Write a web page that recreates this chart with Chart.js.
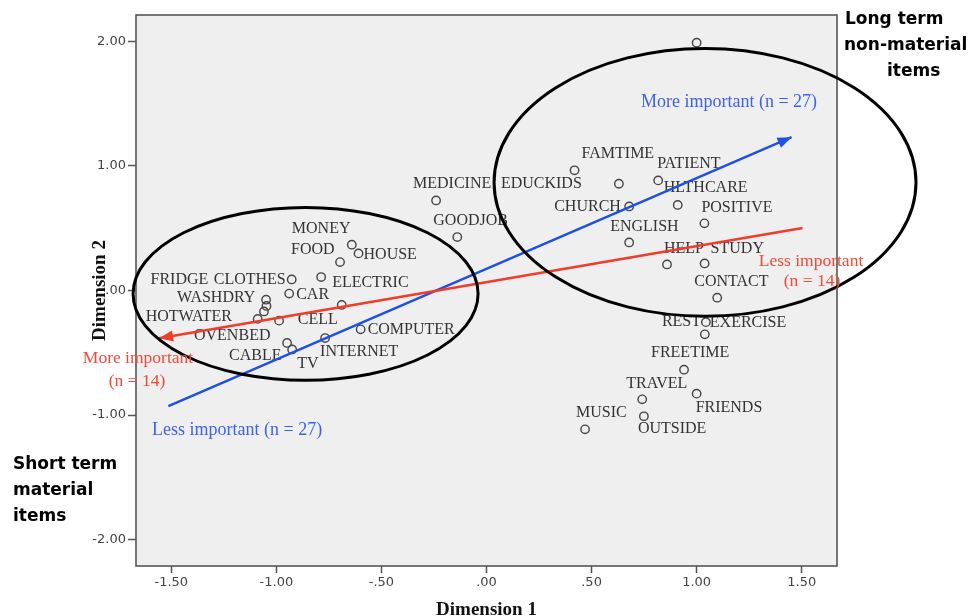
<!DOCTYPE html>
<html><head><meta charset="utf-8">
<script src="https://cdn.jsdelivr.net/npm/chart.js@4/dist/chart.umd.min.js"></script>
<style>html,body{margin:0;padding:0;background:#fff;}canvas{display:block;}</style>
</head><body>
<canvas id="c" width="973" height="616"></canvas>
<script>
// ---- data ----
const itemNames = ['MONEY','HOUSE','FOOD','CLOTHES','ELECTRIC','CAR','WASHDRY','FRIDGE','OVEN','HOTWATER','BED','CELL','COMPUTER','INTERNET','CABLE','TV',
  'MEDICINE','GOODJOB',
  'FAMTIME','EDUCKIDS','PATIENT','CHURCH','HLTHCARE','POSITIVE','ENGLISH','HELP','STUDY','CONTACT','REST','EXERCISE','FREETIME','FRIENDS','TRAVEL','OUTSIDE','MUSIC',''];
const dimension1 = [-0.641,-0.609,-0.697,-0.927,-0.787,-0.939,-1.049,-1.047,-1.059,-1.089,-0.987,-0.689,-0.599,-0.768,-0.949,-0.925,
  -0.240,-0.139,
  0.419,0.630,0.817,0.679,0.910,1.037,0.679,0.859,1.038,1.098,1.044,1.039,0.940,1.000,0.741,0.749,0.469,1.000];
const dimension2 = [0.368,0.298,0.228,0.089,0.108,-0.025,-0.074,-0.124,-0.168,-0.228,-0.242,-0.116,-0.312,-0.382,-0.421,-0.473,
  0.723,0.429,
  0.965,0.857,0.884,0.675,0.687,0.539,0.386,0.209,0.217,-0.058,-0.254,-0.352,-0.636,-0.828,-0.874,-1.010,-1.115,1.989];
const xTickValues = [-1.5,-1,-0.5,0,0.5,1,1.5];
const xTickLabels = ['-1.50','-1.00','-.50','.00','.50','1.00','1.50'];
const yTickValues = [-2,-1,0,1,2];
const yTickLabels = ['-2.00','-1.00','.00','1.00','2.00'];
// preference vectors (tail -> head), in dimension units
const blueArrowDim1 = [-1.514, 1.452];
const blueArrowDim2 = [-0.928, 1.231];
const redArrowDim1 = [1.504, -1.558];
const redArrowDim2 = [0.501, -0.384];

// ---- layout / style (label offsets in px from point: left edge, middle) ----
const labelDx = [-60,5,-49,-78,11,7,-89,-116,-70,-112,-40.5,-44,7,-5,-58,5,
  -23,-24,
  7,-118,-1,-75,-14,-3,-19,-3,6,-23,-44,5,-33,-1,-16,-6,-9,0];
const labelDy = [-16,1,-12,0,6,1,-2,-26,24,-2,15,15,0,14,12.5,14,
  -17,-16,
  -17,0,-17,0,-17,-16,-16,-16,-15,-16,0,-12,-17,14,-16,13,-17,0];
const ellipses = [
  {cx:-0.861, cy:-0.027, rx:0.821, ry:0.694},
  {cx:1.040, cy:0.868, rx:1.004, ry:1.075}
];

const SERIF = '"Liberation Serif", "Times New Roman", serif';

const framePlugin = {
  id:'frame',
  beforeDraw(chart){
    const {ctx, chartArea:a} = chart;
    ctx.save();
    ctx.fillStyle = '#efefef';
    ctx.fillRect(a.left, a.top, a.right-a.left, a.bottom-a.top);
    ctx.restore();
  },
  beforeDatasetsDraw(chart){
    const {ctx, chartArea:a} = chart;
    ctx.save();
    ctx.strokeStyle = '#555';
    ctx.lineWidth = 1.6;
    ctx.strokeRect(a.left, a.top, a.right-a.left, a.bottom-a.top);
    ctx.restore();
  },
  afterDatasetDraw(chart, args){
    const ctx = chart.ctx;
    if (args.index === 0) {
      const meta = chart.getDatasetMeta(0);
      ctx.save();
      ctx.font = '16px ' + SERIF;
      ctx.fillStyle = '#333';
      ctx.textAlign = 'left';
      ctx.textBaseline = 'middle';
      meta.data.forEach((pt, i) => {
        if (itemNames[i]) ctx.fillText(itemNames[i], pt.x + labelDx[i], pt.y + labelDy[i]);
      });
      ctx.restore();
    } else {
      const meta = chart.getDatasetMeta(args.index);
      const p0 = meta.data[0], p1 = meta.data[1];
      const ang = Math.atan2(p1.y - p0.y, p1.x - p0.x);
      const L = 14, W = 5.5;
      ctx.save();
      ctx.fillStyle = chart.data.datasets[args.index].borderColor;
      ctx.beginPath();
      ctx.moveTo(p1.x, p1.y);
      ctx.lineTo(p1.x - L*Math.cos(ang) + W*Math.sin(ang), p1.y - L*Math.sin(ang) - W*Math.cos(ang));
      ctx.lineTo(p1.x - L*Math.cos(ang) - W*Math.sin(ang), p1.y - L*Math.sin(ang) + W*Math.cos(ang));
      ctx.closePath();
      ctx.fill();
      ctx.restore();
    }
  },
  afterDatasetsDraw(chart){
    const {ctx, scales:{x, y}} = chart;
    ctx.save();
    ctx.strokeStyle = '#000';
    ctx.lineWidth = 3;
    ellipses.forEach(e => {
      const cx = x.getPixelForValue(e.cx), cy = y.getPixelForValue(e.cy);
      const rx = Math.abs(x.getPixelForValue(e.cx + e.rx) - cx);
      const ry = Math.abs(y.getPixelForValue(e.cy + e.ry) - cy);
      ctx.beginPath();
      ctx.ellipse(cx, cy, rx, ry, 0, 0, Math.PI*2);
      ctx.stroke();
    });
    ctx.restore();
  },
  afterDraw(chart){
    const ctx = chart.ctx;
    ctx.save();
    ctx.textBaseline = 'middle';
    // blue annotations
    ctx.font = '18px ' + SERIF;
    ctx.fillStyle = '#3d62ee';
    ctx.textAlign = 'left';
    ctx.fillText('More important (n = 27)', 641, 102);
    ctx.fillText('Less important (n = 27)', 152, 430);
    // red annotations
    ctx.font = '17.5px ' + SERIF;
    ctx.fillStyle = '#f24a36';
    ctx.textAlign = 'center';
    ctx.fillText('More important', 138, 358);
    ctx.fillText('(n = 14)', 137, 381);
    ctx.fillText('Less important', 811, 261);
    ctx.fillText('(n = 14)', 812, 281);
    // group labels
    ctx.font = 'bold 17px "DejaVu Sans", sans-serif';
    ctx.fillStyle = '#000';
    ctx.textAlign = 'left';
    ctx.fillText('Long term', 845, 20);
    ctx.fillText('non-material', 844, 46);
    ctx.fillText('items', 887, 72);
    ctx.fillText('Short term', 13, 465);
    ctx.fillText('material', 13, 491);
    ctx.fillText('items', 13, 517);
    ctx.restore();
  }
};

const tickFont = {family:'"DejaVu Sans", sans-serif', size:13};
const titleFont = {family: SERIF, size:19, weight:'bold'};

new Chart(document.getElementById('c'), {
  type:'scatter',
  data:{
    datasets:[
      {
        data: dimension1.map((v,i)=>({x:v, y:dimension2[i]})),
        pointRadius:4.2, pointBorderWidth:1.4, pointBorderColor:'#444',
        pointBackgroundColor:'rgba(0,0,0,0)', showLine:false, order:3, clip:false
      },
      {
        type:'line',
        data: blueArrowDim1.map((v,i)=>({x:v, y:blueArrowDim2[i]})),
        borderColor:'#1f50e4', borderWidth:2.5, pointRadius:0, fill:false, tension:0, order:2, clip:false
      },
      {
        type:'line',
        data: redArrowDim1.map((v,i)=>({x:v, y:redArrowDim2[i]})),
        borderColor:'#f03c28', borderWidth:2.5, pointRadius:0, fill:false, tension:0, order:1, clip:false
      }
    ]
  },
  options:{
    responsive:false, animation:false, devicePixelRatio:1,
    layout:{padding:{left:0, right:136, top:15, bottom:0}},
    plugins:{legend:{display:false}, tooltip:{enabled:false}},
    scales:{
      x:{
        type:'linear', min:-1.668, max:1.668,
        afterBuildTicks(s){ s.ticks = xTickValues.map(v=>({value:v})); },
        afterFit(s){ s.height = 50; },
        ticks:{autoSkip:false, maxRotation:0, font:tickFont, color:'#444', padding:2,
          callback:(v)=>{ const i = xTickValues.indexOf(v); return i>=0 ? xTickLabels[i] : ''; }},
        grid:{drawOnChartArea:false, drawTicks:true, tickLength:7, tickColor:'#555', tickWidth:1.5},
        border:{display:false},
        title:{display:true, text:'Dimension 1', font:titleFont, color:'#111', padding:{top:0, bottom:-5}}
      },
      y:{
        type:'linear', min:-2.212, max:2.212,
        afterBuildTicks(s){ s.ticks = yTickValues.map(v=>({value:v})); },
        afterFit(s){ s.width = 136; },
        ticks:{autoSkip:false, font:tickFont, color:'#444', padding:2,
          callback:(v)=>{ const i = yTickValues.indexOf(v); return i>=0 ? yTickLabels[i] : ''; }},
        grid:{drawOnChartArea:false, drawTicks:true, tickLength:8, tickColor:'#555', tickWidth:1.5},
        border:{display:false},
        title:{display:true, text:'Dimension 2', font:titleFont, color:'#111', padding:{top:89, bottom:0}}
      }
    }
  },
  plugins:[framePlugin]
});
</script>
</body></html>
